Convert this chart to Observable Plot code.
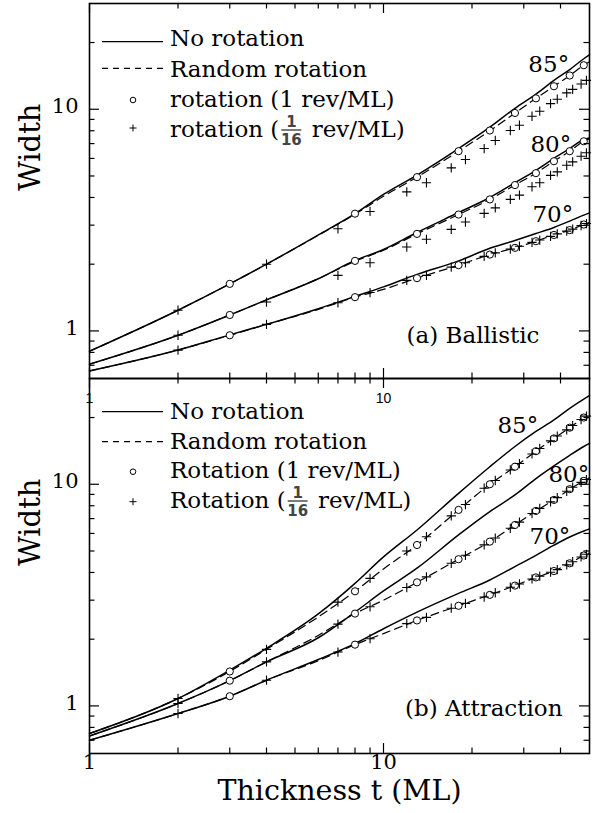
<!DOCTYPE html>
<html><head><meta charset="utf-8">
<script src="https://cdn.jsdelivr.net/npm/d3@7"></script>
<script src="https://cdn.jsdelivr.net/npm/@observablehq/plot@0.6"></script>
<style>body{margin:0;background:#fff} svg{display:block}</style>
</head><body><div id="chart"></div>
<script>
// ---------- data ----------
const panels = ["a", "b"];
const panelNames = ["(a) Ballistic", "(b) Attraction"];
const angles = ["70", "80", "85"];
const lineX = [1, 2, 3, 4, 6, 8, 10, 13, 18, 23, 28, 33, 38, 43, 48, 50.2];

const solidA70 = [0.66, 0.82, 0.96, 1.07, 1.26, 1.43, 1.58, 1.80, 2.07, 2.36, 2.56, 2.75, 2.93, 3.13, 3.33, 3.41];
const solidA80 = [0.708, 0.956, 1.18, 1.38, 1.72, 2.08, 2.33, 2.78, 3.42, 4.0, 4.66, 5.3, 6.0, 6.65, 7.3, 7.42];
const solidA85 = [0.81, 1.24, 1.63, 2.0, 2.71, 3.38, 4.13, 5.05, 6.65, 8.3, 10.1, 11.7, 13.5, 15.1, 16.9, 17.6];
const dashedA70 = [0.66, 0.82, 0.955, 1.07, 1.25, 1.42, 1.54, 1.73, 1.98, 2.21, 2.37, 2.54, 2.71, 2.85, 3.02, 3.08];
const dashedA80 = [0.708, 0.956, 1.18, 1.38, 1.72, 2.06, 2.31, 2.74, 3.35, 3.92, 4.55, 5.15, 5.83, 6.47, 7.17, 7.35];
const dashedA85 = [0.81, 1.24, 1.63, 2.0, 2.7, 3.36, 4.05, 4.94, 6.47, 8.0, 9.6, 11.2, 12.7, 14.2, 15.8, 16.4];

const solidB70 = [0.70, 0.924, 1.106, 1.306, 1.62, 1.91, 2.23, 2.65, 3.22, 3.70, 4.25, 4.78, 5.31, 5.78, 6.15, 6.29];
const solidB80 = [0.732, 1.025, 1.30, 1.58, 2.03, 2.65, 3.30, 4.18, 5.91, 7.53, 8.95, 10.6, 12.1, 13.5, 14.8, 15.3];
const solidB85 = [0.751, 1.08, 1.45, 1.82, 2.6, 3.57, 4.7, 6.22, 9.1, 12.0, 14.8, 17.3, 19.5, 22.0, 24.2, 25.1];
const dashedB70 = [0.70, 0.924, 1.106, 1.306, 1.6, 1.89, 2.12, 2.43, 2.83, 3.17, 3.49, 3.80, 4.06, 4.40, 4.77, 4.9];
const dashedB80 = [0.732, 1.025, 1.30, 1.58, 2.08, 2.61, 3.0, 3.61, 4.59, 5.51, 6.55, 7.58, 8.5, 9.5, 10.35, 10.7];
const dashedB85 = [0.751, 1.08, 1.43, 1.80, 2.52, 3.29, 4.15, 5.32, 7.66, 10.0, 12.0, 14.1, 16.1, 18.0, 20.0, 20.8];

const circleX = [3, 8, 13, 18, 23, 28, 33, 38, 43, 48];
const circleA70 = [0.956, 1.42, 1.73, 1.98, 2.21, 2.37, 2.54, 2.71, 2.85, 3.02];
const circleA80 = [1.18, 2.07, 2.74, 3.35, 3.92, 4.55, 5.15, 5.83, 6.47, 7.17];
const circleA85 = [1.63, 3.38, 4.94, 6.47, 8.02, 9.62, 11.2, 12.7, 14.2, 15.8];
const circleB70 = [1.106, 1.89, 2.43, 2.83, 3.17, 3.49, 3.80, 4.06, 4.40, 4.77];
const circleB80 = [1.30, 2.61, 3.61, 4.59, 5.51, 6.55, 7.58, 8.5, 9.5, 10.35];
const circleB85 = [1.43, 3.29, 5.32, 7.66, 10.0, 12.0, 14.1, 16.1, 18.0, 20.0];

const plusX = [2, 4, 7, 9, 12, 14, 17, 19, 22, 24, 27, 29, 32, 34, 37, 39, 42, 44, 47, 49];
const plusA70 = [0.819, 1.07, 1.34, 1.49, 1.69, 1.78, 1.94, 2.03, 2.17, 2.25, 2.34, 2.41, 2.51, 2.57, 2.67, 2.74, 2.82, 2.88, 2.99, 3.05];
const plusA80 = [0.956, 1.35, 1.78, 2.03, 2.39, 2.59, 2.87, 3.1, 3.39, 3.59, 3.92, 4.10, 4.47, 4.66, 5.03, 5.22, 5.59, 5.79, 6.14, 6.36];
const plusA85 = [1.24, 2.0, 2.89, 3.46, 4.24, 4.66, 5.44, 5.93, 6.65, 7.23, 8.02, 8.47, 9.3, 9.8, 10.6, 11.1, 11.85, 12.3, 13.0, 13.5];
const plusB70 = [0.924, 1.306, 1.75, 2.01, 2.35, 2.51, 2.76, 2.9, 3.1, 3.24, 3.43, 3.55, 3.74, 3.85, 4.01, 4.12, 4.33, 4.47, 4.7, 4.83];
const plusB80 = [1.025, 1.58, 2.34, 2.80, 3.42, 3.82, 4.4, 4.78, 5.33, 5.72, 6.33, 6.75, 7.38, 7.78, 8.33, 8.7, 9.3, 9.7, 10.2, 10.5];
const plusB85 = [1.08, 1.80, 2.94, 3.76, 5.0, 5.8, 7.2, 8.1, 9.6, 10.4, 11.6, 12.4, 13.7, 14.5, 15.7, 16.5, 17.6, 18.4, 19.6, 20.3];

// angle labels
const angleLabelPanel = ["a", "a", "a", "b", "b", "b"];
const angleLabelText = ["85°", "80°", "70°", "85°", "80°", "70°"];
const angleLabelX = [31.1, 31.6, 32.1, 24.4, 36.4, 31.4];
const angleLabelY = [15.9, 6.92, 3.33, 18.3, 11.0, 5.83];

// axis ticks
const xMajor = [1, 10];
const xMinor = [2, 3, 4, 5, 6, 7, 8, 9, 20, 30, 40];
const yMajor = [1, 10];
const yMinor = [0.7, 0.8, 0.9, 2, 3, 4, 5, 6, 7, 8, 9, 20];

// legend labels
const legendTexts = [
  ["No rotation", "Random rotation", "rotation (1 rev/ML)", ["rotation (", " rev/ML)"]],
  ["No rotation", "Random rotation", "Rotation (1 rev/ML)", ["Rotation (", " rev/ML)"]]
];

// ---------- build tables ----------
function rows(panel, angle, xs, ys) {
  return xs.map((x, i) => ({panel, angle, key: panel + angle, x, y: ys[i]}));
}
const solidRows = [
  ...rows("a", "70", lineX, solidA70), ...rows("a", "80", lineX, solidA80), ...rows("a", "85", lineX, solidA85),
  ...rows("b", "70", lineX, solidB70), ...rows("b", "80", lineX, solidB80), ...rows("b", "85", lineX, solidB85)];
const dashedRows = [
  ...rows("a", "70", lineX, dashedA70), ...rows("a", "80", lineX, dashedA80), ...rows("a", "85", lineX, dashedA85),
  ...rows("b", "70", lineX, dashedB70), ...rows("b", "80", lineX, dashedB80), ...rows("b", "85", lineX, dashedB85)];
const circleRows = [
  ...rows("a", "70", circleX, circleA70), ...rows("a", "80", circleX, circleA80), ...rows("a", "85", circleX, circleA85),
  ...rows("b", "70", circleX, circleB70), ...rows("b", "80", circleX, circleB80), ...rows("b", "85", circleX, circleB85)];
const plusRows = [
  ...rows("a", "70", plusX, plusA70), ...rows("a", "80", plusX, plusA80), ...rows("a", "85", plusX, plusA85),
  ...rows("b", "70", plusX, plusB70), ...rows("b", "80", plusX, plusB80), ...rows("b", "85", plusX, plusB85)];
const angleLabels = angleLabelText.map((t, i) => ({panel: angleLabelPanel[i], text: t, x: angleLabelX[i], y: angleLabelY[i]}));

// ---------- layout ----------
const ML = 89, MR = 13, MT = 3, MB = 60, WIDTH = 602, HEIGHT = 813;
const PW = WIDTH - ML - MR;            // 500
const PH = (HEIGHT - MT - MB) / 2;     // 375 per panel
const MAJ = 10, MIN = 5.5;
const serif = "DejaVu Serif";

const chart = Plot.plot({
  width: WIDTH, height: HEIGHT,
  marginLeft: ML, marginRight: MR, marginTop: MT, marginBottom: MB,
  x: {type: "log", domain: [1, 50.2], axis: null},
  y: {type: "log", domain: [0.61, 30], axis: null},
  fy: {domain: panels, padding: 0, axis: null},
  style: {fontFamily: serif, background: "white", color: "black", overflow: "visible"},
  marks: [
    // data
    Plot.line(dashedRows, {x: "x", y: "y", z: "key", fy: "panel", stroke: "black", strokeWidth: 1.2, strokeDasharray: "8,5", curve: "monotone-x"}),
    Plot.line(solidRows, {x: "x", y: "y", z: "key", fy: "panel", stroke: "black", strokeWidth: 1.5, curve: "monotone-x"}),
    Plot.dot(circleRows, {x: "x", y: "y", fy: "panel", symbol: "circle", r: 3.6, stroke: "black", strokeWidth: 1, fill: "white"}),
    Plot.dot(plusRows, {x: "x", y: "y", fy: "panel", symbol: "plus", r: 3.1, stroke: "black", strokeWidth: 1.1}),
    // ticks (inward, all four sides)
    Plot.tickX(xMajor, {x: d => d, insetTop: PH - MAJ, stroke: "black", strokeWidth: 1.2}),
    Plot.tickX(xMinor, {x: d => d, insetTop: PH - MIN, stroke: "black", strokeWidth: 1.2}),
    Plot.tickX(xMajor, {x: d => d, insetBottom: PH - MAJ, stroke: "black", strokeWidth: 1.2}),
    Plot.tickX(xMinor, {x: d => d, insetBottom: PH - MIN, stroke: "black", strokeWidth: 1.2}),
    Plot.tickY(yMajor, {y: d => d, insetRight: PW - MAJ, stroke: "black", strokeWidth: 1.2}),
    Plot.tickY(yMinor, {y: d => d, insetRight: PW - MIN, stroke: "black", strokeWidth: 1.2}),
    Plot.tickY(yMajor, {y: d => d, insetLeft: PW - MAJ, stroke: "black", strokeWidth: 1.2}),
    Plot.tickY(yMinor, {y: d => d, insetLeft: PW - MIN, stroke: "black", strokeWidth: 1.2}),
    Plot.frame({stroke: "black", strokeWidth: 1.6}),
    // y tick labels
    Plot.text(yMajor, {y: d => d, text: d => String(d), frameAnchor: "left", textAnchor: "end", dx: -11, dy: -3, fontSize: 21, fontFamily: serif}),
    // top panel's (small, sans) x tick labels
    Plot.text(xMajor, {x: d => d, fy: () => "a", text: d => String(d), frameAnchor: "bottom", dy: 24.5, fontSize: 14, fontFamily: "Liberation Sans"}),
    // bottom panel x tick labels
    Plot.text(xMajor, {x: d => d, fy: () => "b", text: d => String(d), frameAnchor: "bottom", dy: 15, fontSize: 21, fontFamily: serif}),
    // axis titles
    Plot.text(panels, {fy: d => d, text: () => "Width", frameAnchor: "left", dx: -59, rotate: -90, fontSize: 29, fontFamily: serif}),
    Plot.text(["Thickness t (ML)"], {fy: () => "b", frameAnchor: "bottom", dy: 46, fontSize: 28.5, fontFamily: serif}),
    // panel names
    Plot.text([panelNames[0]], {fy: () => "a", frameAnchor: "bottom-right", textAnchor: "end", dx: -50, dy: -36, fontSize: 23, fontFamily: serif}),
    Plot.text([panelNames[1]], {fy: () => "b", frameAnchor: "bottom-right", textAnchor: "end", dx: -27, dy: -38, fontSize: 23, fontFamily: serif}),
    // angle labels
    Plot.text(angleLabels, {x: "x", y: "y", fy: "panel", text: "text", textAnchor: "start", fontSize: 23, fontFamily: serif})
  ]
});
document.getElementById("chart").appendChild(chart);

// ---------- legends (one per panel) ----------
const svg = d3.select(chart);
const legendBase = [[46, 77, 107, 137], [419, 449, 478, 508]];   // text baselines (page px)
const legendMark = [[41.7, 68.3, 100, 128], [411.7, 441.7, 471.7, 501.7]];
panels.forEach((p, k) => {
  const g = svg.append("g")
    .attr("font-family", serif).attr("font-size", 23).attr("fill", "black").attr("text-anchor", "start");
  const base = legendBase[k], mk = legendMark[k];
  const tx = 170;
  g.append("line").attr("x1", 102).attr("x2", 163).attr("y1", mk[0]).attr("y2", mk[0])
    .attr("stroke", "black").attr("stroke-width", 1.3);
  g.append("line").attr("x1", 102).attr("x2", 163).attr("y1", mk[1]).attr("y2", mk[1])
    .attr("stroke", "black").attr("stroke-width", 1.2).attr("stroke-dasharray", "6,5");
  g.append("circle").attr("cx", 133).attr("cy", mk[2]).attr("r", 2.8)
    .attr("fill", "none").attr("stroke", "black").attr("stroke-width", 1);
  g.append("path").attr("d", `M${133 - 3.5},${mk[3]}h7M133,${mk[3] - 3.5}v7`)
    .attr("stroke", "black").attr("stroke-width", 1);
  const t = legendTexts[k];
  g.append("text").attr("x", tx).attr("y", base[0]).text(t[0]);
  g.append("text").attr("x", tx).attr("y", base[1]).text(t[1]);
  g.append("text").attr("x", tx).attr("y", base[2]).text(t[2]);
  const a = g.append("text").attr("x", tx).attr("y", base[3]).text(t[3][0]);
  const w = a.node().getComputedTextLength();
  const fx = tx + w + 1, fw = 22;
  const fg = g.append("g").attr("font-family", "DejaVu Sans").attr("font-weight", "bold")
    .attr("font-size", 15).attr("fill", "#444").attr("text-anchor", "middle");
  fg.append("text").attr("x", fx + fw / 2).attr("y", base[3] - 10).text("1");
  fg.append("line").attr("x1", fx + 1).attr("x2", fx + fw - 1).attr("y1", base[3] - 7).attr("y2", base[3] - 7)
    .attr("stroke", "#444").attr("stroke-width", 1.4);
  fg.append("text").attr("x", fx + fw / 2).attr("y", base[3] + 8).text("16");
  g.append("text").attr("x", fx + fw + 2).attr("y", base[3]).text(t[3][1]);
});
</script>
</body></html>
